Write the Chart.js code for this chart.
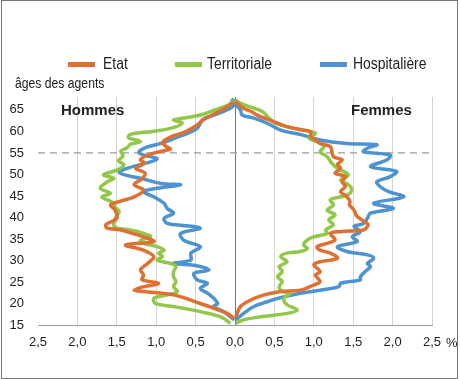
<!DOCTYPE html>
<html>
<head>
<meta charset="utf-8">
<script src="https://cdn.jsdelivr.net/npm/chart.js@4"></script>
<style>
  body { margin: 0; background: #fff; }
  #wrap { position: relative; width: 460px; height: 379px; overflow: hidden; }
  #frame { position: absolute; left: 1px; top: 0; width: 455px; height: 377px; border: 1px solid #777; }
  canvas { position: absolute; left: 0; top: 0; }
  .lbl { position: absolute; line-height: 1; white-space: nowrap; color: #222;
         font-family: 'Liberation Sans', Arial, sans-serif; }
  .narrow { transform: scaleX(0.87); transform-origin: left center; }
  .bold { font-weight: bold; }
  .bar { position: absolute; height: 5px; width: 27px; }
</style>
</head>
<body>
<div id="wrap">
  <canvas id="pyramid" width="460" height="379"></canvas>
  <div id="frame"></div>
  <div id="legend"></div>
  <span class="lbl narrow" style="left:15px;top:76px;font-size:14px">âges des agents</span>
  <span class="lbl bold" style="left:61px;top:102px;font-size:15px">Hommes</span>
  <span class="lbl bold" style="left:351px;top:102px;font-size:15px">Femmes</span>
  <span class="lbl" style="left:446px;top:336px;font-size:13px">%</span>
</div>
<script>
// ─── DATA : [âge, % des agents] ─────────────────────────────────────
const seriesNames = ['Etat', 'Territoriale', 'Hospitalière'];
const seriesColors = ['#E0702F', '#92C84A', '#4E93D1'];
const refAge = 55;

const etatHommes = [[16.5,0.01],[17.7,0.10],[20.0,0.44],[22.0,0.78],[22.8,1.16],[23.1,1.28],[23.9,1.16],[24.7,0.97],[25.5,1.18],[26.6,1.16],[27.8,1.20],[29.3,1.11],[30.9,1.03],[32.4,1.16],[33.6,1.39],[34.4,1.03],[35.5,1.16],[36.3,1.30],[37.1,1.45],[37.5,1.62],[38.3,1.64],[39.8,1.50],[41.7,1.52],[42.9,1.58],[43.7,1.47],[44.8,1.28],[46.4,1.16],[47.6,1.28],[49.0,1.18],[50.3,1.14],[51.4,1.26],[52.6,1.15],[53.4,1.20],[54.5,1.11],[55.4,0.94],[55.9,0.82],[56.6,0.88],[57.4,0.92],[58.5,0.84],[60.0,0.62],[61.5,0.48],[62.5,0.42],[64.3,0.24],[65.5,0.12],[66.8,0.02]];
const territorialeHommes = [[15.4,0.06],[16.9,0.18],[18.1,0.44],[19.3,0.78],[20.0,1.01],[21.2,1.03],[22.0,0.86],[22.8,0.73],[23.9,0.78],[25.1,0.75],[26.2,0.78],[27.4,0.78],[28.6,0.75],[29.3,0.82],[30.1,0.99],[30.9,0.92],[31.7,0.97],[32.4,0.90],[33.2,0.99],[34.0,1.16],[34.7,1.20],[35.5,1.07],[36.3,1.16],[37.1,1.33],[37.5,1.50],[38.3,1.54],[39.8,1.52],[41.4,1.47],[42.3,1.52],[43.3,1.54],[44.1,1.62],[44.8,1.69],[45.6,1.58],[46.8,1.71],[48.3,1.62],[49.1,1.54],[49.9,1.67],[51.0,1.50],[52.2,1.41],[53.2,1.48],[54.3,1.42],[55.4,1.45],[56.2,1.37],[57.0,1.33],[57.7,1.20],[58.5,1.35],[59.3,1.33],[60.0,1.05],[60.7,0.82],[61.9,0.67],[62.7,0.78],[63.1,0.65],[63.8,0.44],[64.9,0.27],[66.2,0.08],[67.2,0.02]];
const hospitaliereHommes = [[16.2,0.01],[18.1,0.14],[19.3,0.27],[20.0,0.22],[21.2,0.27],[22.4,0.35],[23.5,0.44],[24.7,0.35],[25.5,0.48],[27.0,0.52],[27.8,0.33],[28.9,0.52],[29.3,0.78],[30.1,0.56],[31.7,0.56],[33.2,0.44],[34.7,0.65],[36.3,0.69],[37.5,0.44],[38.2,0.69],[38.6,0.86],[39.8,0.90],[41.0,0.78],[42.1,0.86],[43.3,0.90],[44.8,1.03],[46.0,1.16],[46.8,0.99],[47.6,0.69],[47.9,0.94],[49.1,1.20],[49.9,1.40],[50.6,1.47],[51.4,1.37],[52.1,1.24],[52.9,1.07],[53.7,0.99],[54.5,1.16],[55.2,1.22],[56.4,1.11],[57.2,0.94],[58.7,0.73],[59.5,0.61],[60.7,0.48],[61.9,0.44],[62.9,0.40],[63.8,0.27],[65.5,0.05],[66.8,0.00],[67.5,0.05]];

const etatFemmes = [[16.9,0.01],[19.3,0.07],[20.8,0.20],[22.0,0.37],[22.8,0.58],[23.1,0.83],[24.3,1.00],[25.1,1.08],[26.6,1.02],[27.4,1.08],[29.0,1.00],[29.7,1.08],[30.5,1.30],[31.7,1.21],[32.4,1.08],[33.2,1.04],[34.0,1.17],[34.8,1.27],[36.3,1.21],[36.7,1.34],[37.1,1.63],[37.9,1.68],[38.6,1.68],[40.2,1.55],[41.7,1.51],[43.0,1.45],[43.7,1.46],[44.8,1.42],[46.0,1.34],[47.2,1.40],[48.3,1.36],[49.5,1.40],[50.3,1.27],[51.4,1.34],[52.3,1.30],[53.4,1.36],[54.1,1.25],[55.3,1.23],[56.5,1.21],[57.2,1.08],[58.0,1.02],[58.8,0.96],[59.9,0.96],[60.3,0.87],[61.1,0.66],[62.3,0.49],[63.8,0.28],[64.5,0.22],[65.4,0.11],[67.0,0.00]];
const territorialeFemmes = [[15.4,0.01],[16.2,0.11],[16.9,0.32],[17.7,0.66],[18.5,0.79],[19.7,0.66],[21.2,0.62],[22.4,0.70],[22.8,0.60],[23.9,0.56],[25.1,0.60],[26.2,0.54],[27.4,0.60],[28.6,0.56],[29.7,0.66],[30.9,0.58],[31.7,0.66],[32.1,0.83],[32.8,0.92],[33.6,0.87],[34.8,0.92],[35.5,1.00],[36.3,1.17],[37.1,1.15],[38.3,1.25],[39.4,1.19],[40.6,1.27],[41.7,1.17],[42.9,1.25],[44.1,1.21],[45.2,1.42],[46.4,1.48],[47.6,1.44],[48.7,1.34],[49.9,1.44],[51.4,1.30],[52.6,1.23],[54.1,1.17],[55.3,1.08],[56.5,1.13],[57.6,1.04],[58.4,0.94],[59.6,1.02],[60.7,0.75],[61.9,0.51],[63.1,0.43],[64.6,0.35],[65.4,0.24],[66.5,0.07],[67.3,0.00]];
const hospitaliereFemmes = [[16.2,0.01],[17.7,0.11],[19.3,0.24],[20.4,0.41],[21.2,0.54],[22.4,0.83],[23.1,1.08],[23.9,1.32],[24.7,1.34],[25.5,1.59],[26.2,1.59],[27.4,1.65],[28.6,1.72],[29.3,1.68],[30.5,1.76],[31.3,1.68],[32.1,1.42],[33.2,1.30],[34.4,1.55],[35.5,1.49],[36.7,1.59],[37.9,1.51],[38.6,1.63],[39.8,1.68],[41.0,1.72],[42.1,2.01],[43.3,1.76],[44.8,2.14],[46.0,1.95],[47.2,1.84],[48.3,1.80],[49.5,1.97],[50.7,2.05],[51.8,1.72],[53.4,1.93],[54.5,1.97],[55.3,1.63],[56.1,1.68],[56.9,1.80],[57.2,1.42],[58.0,1.08],[59.2,0.85],[60.3,0.58],[61.9,0.41],[63.1,0.24],[63.8,0.09],[65.0,0.07],[66.2,0.02],[67.3,0.02]];

const xTicks = [-2.5, -2, -1.5, -1, -0.5, 0, 0.5, 1, 1.5, 2, 2.5];
const yTicks = [15, 20, 25, 30, 35, 40, 45, 50, 55, 60, 65];

// ─── HELPERS ────────────────────────────────────────────────────────
const toPoints = (pairs, sign) => pairs.map(([age, pct]) => ({ x: sign * pct, y: age }));
const fmtPct = v => Math.abs(v).toFixed(1).replace('.', ',');

// légende HTML (barre + libellé)
const legendPos = [[68, 103], [175, 207], [320, 353]];
document.getElementById('legend').innerHTML = seriesNames.map((n, i) => `
  <div class="bar" style="left:${legendPos[i][0]}px;top:62px;background:${seriesColors[i]}"></div>
  <span class="lbl narrow" style="left:${legendPos[i][1]}px;top:56px;font-size:16px">${n}</span>`).join('');

const lineDs = (data, i) => ({
  label: seriesNames[i], data, borderColor: seriesColors[i], backgroundColor: seriesColors[i],
  borderWidth: 3.5, pointRadius: 0, showLine: true, tension: 0.35, fill: false
});

const hommes = [etatHommes, territorialeHommes, hospitaliereHommes];
const femmes = [etatFemmes, territorialeFemmes, hospitaliereFemmes];
const datasets = [];
[0, 1, 2].forEach(i => {
  datasets.push(lineDs(toPoints(hommes[i], -1), i));
  datasets.push(lineDs(toPoints(femmes[i], 1), i));
});
// ligne pointillée à 55 ans
datasets.push({
  label: 'ref', data: [{ x: xTicks[0], y: refAge }, { x: xTicks[xTicks.length - 1], y: refAge }],
  borderColor: '#9a9a9a', borderWidth: 1.3, borderDash: [7, 5], pointRadius: 0, showLine: true
});

new Chart(document.getElementById('pyramid'), {
  type: 'scatter',
  data: { datasets },
  options: {
    responsive: false, animation: false,
    layout: { padding: { left: 8, right: 28, top: 97, bottom: 24 } },
    plugins: { legend: { display: false }, tooltip: { enabled: false } },
    scales: {
      x: {
        type: 'linear', min: xTicks[0], max: xTicks[xTicks.length - 1],
        afterBuildTicks: s => { s.ticks = xTicks.map(v => ({ value: v })); },
        afterFit: s => { s.height = 30; },
        ticks: { callback: v => fmtPct(v), padding: 10, color: '#222', maxRotation: 0, autoSkip: false,
                 font: { family: "'Liberation Sans', Arial", size: 13 } },
        grid: { drawTicks: false, lineWidth: 1,
                color: c => c.tick && c.tick.value === xTicks[0] ? 'rgba(0,0,0,0)' : (c.tick && c.tick.value === 0 ? '#777' : '#d4d4d4') },
        border: { color: '#a0a0a0' }
      },
      y: {
        type: 'linear', min: 15, max: 68,
        afterBuildTicks: s => { s.ticks = yTicks.map(v => ({ value: v })); },
        afterFit: s => { s.width = 30; },
        ticks: { padding: 6, color: '#222',
                 font: { family: "'Liberation Sans', Arial", size: 13 } },
        grid: { display: false },
        border: { display: false }
      }
    }
  }
});
</script>
</body>
</html>
